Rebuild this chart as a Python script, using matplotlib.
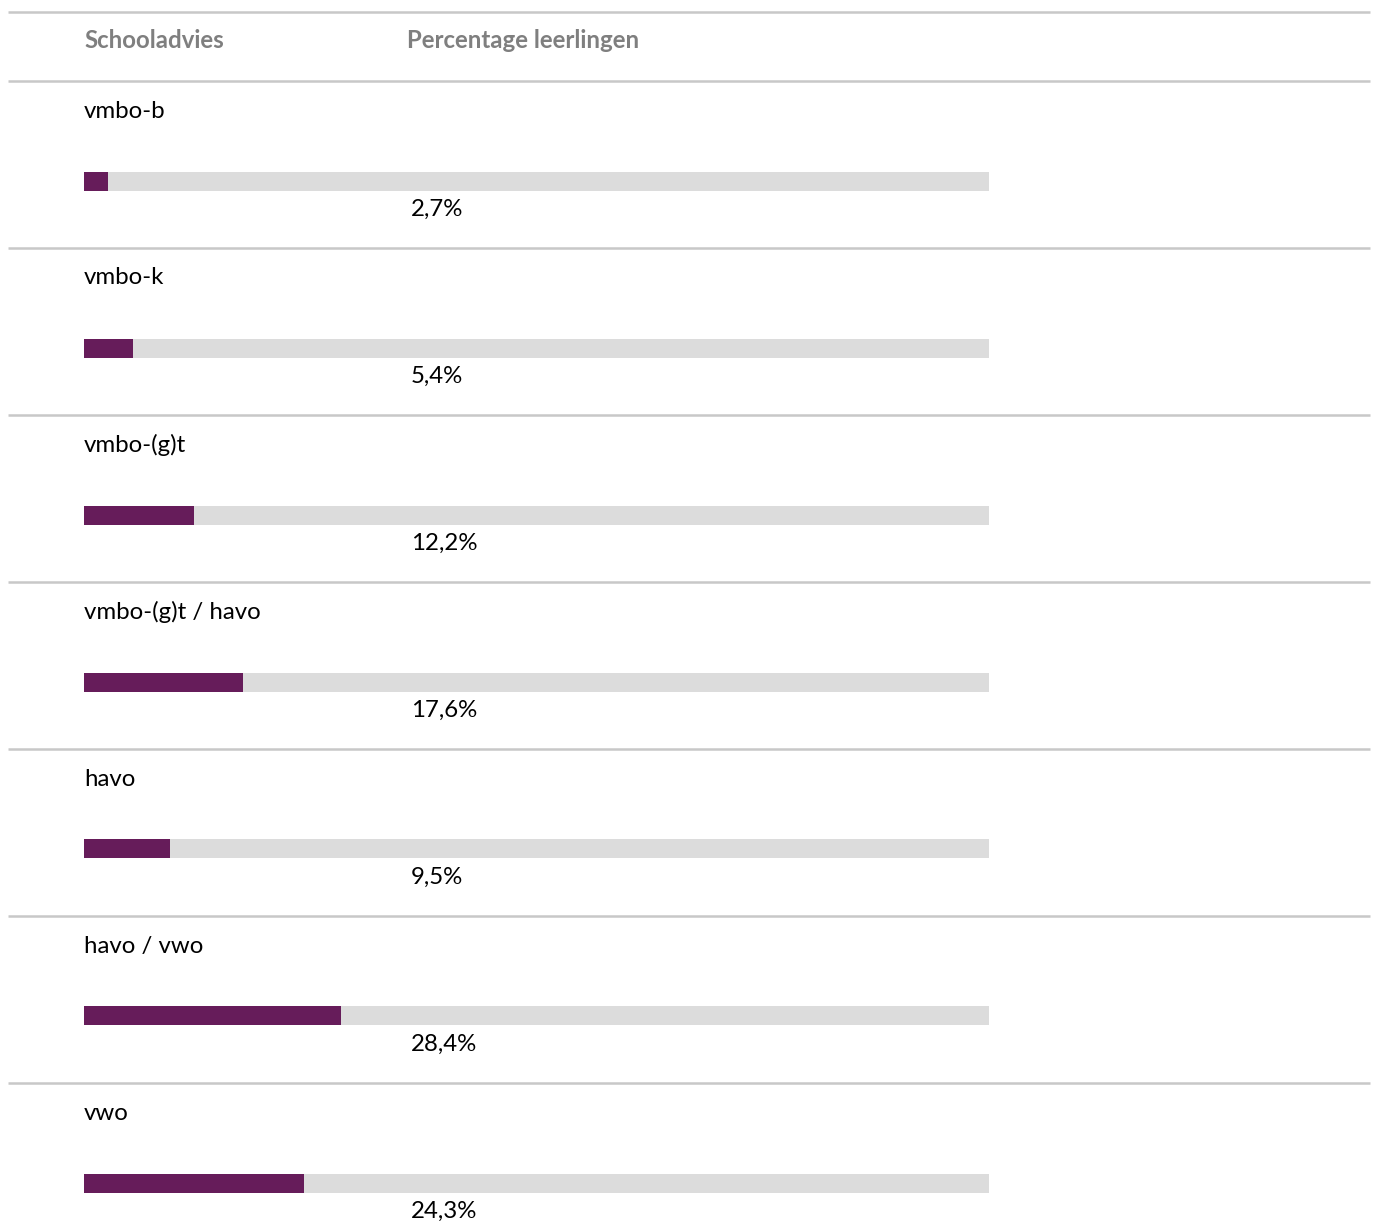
import matplotlib
matplotlib.use("Agg")
from matplotlib import pyplot as plt

# Data
categories = ['vmbo-b', 'vmbo-k', 'vmbo-(g)t', 'vmbo-(g)t / havo',
              'havo', 'havo / vwo', 'vwo']
percentages = [2.7, 5.4, 12.2, 17.6, 9.5, 28.4, 24.3]
headers = ['Schooladvies', 'Percentage leerlingen']

plt.rcParams['font.family'] = ['Lato', 'DejaVu Sans']

W, H = 1373, 1221
fig = plt.figure(figsize=(W / 100, H / 100), dpi=100)
ax = fig.add_axes([0, 0, 1, 1])

# x: percent, 0..100 spans pixels 84..989 ; y: row units of 167 px
px_per_pct = 905 / 100
row_px = 167
ax.set_xlim(-84 / px_per_pct, (W - 84) / px_per_pct)
ax.set_ylim((H - 81) / row_px, -81 / row_px)
ax.axis('off')

purple = '#661c5a'
track = '#dcdcdc'
line_c = '#c8c8c8'
fs = 17.3

# Separator lines
x0 = (8 - 84) / px_per_pct
x1 = (1370 - 84) / px_per_pct
ax.hlines([(12 - 81) / row_px] + list(range(len(categories))), x0, x1,
          color=line_c, linewidth=1.8)

# Header
ax.text(0, -40 / row_px, headers[0], fontsize=fs, fontweight='bold',
        color='#7f7f7f', va='center', ha='left')
ax.text((407 - 84) / px_per_pct, -40 / row_px, headers[1], fontsize=fs,
        fontweight='bold', color='#7f7f7f', va='center', ha='left')

bar_y = [i + 100 / row_px for i in range(len(categories))]
ax.barh(bar_y, [100] * len(categories), height=19 / row_px, color=track)
ax.barh(bar_y, percentages, height=19 / row_px, color=purple)

for i, (cat, pct) in enumerate(zip(categories, percentages)):
    ax.text(0, i + 30 / row_px, cat, fontsize=fs, color='black',
            va='center', ha='left')
    ax.text((411 - 84) / px_per_pct, i + 128 / row_px,
            f'{pct:.1f}%'.replace('.', ','), fontsize=fs, color='black',
            va='center', ha='left')

fig.savefig('out.png', dpi=100)
